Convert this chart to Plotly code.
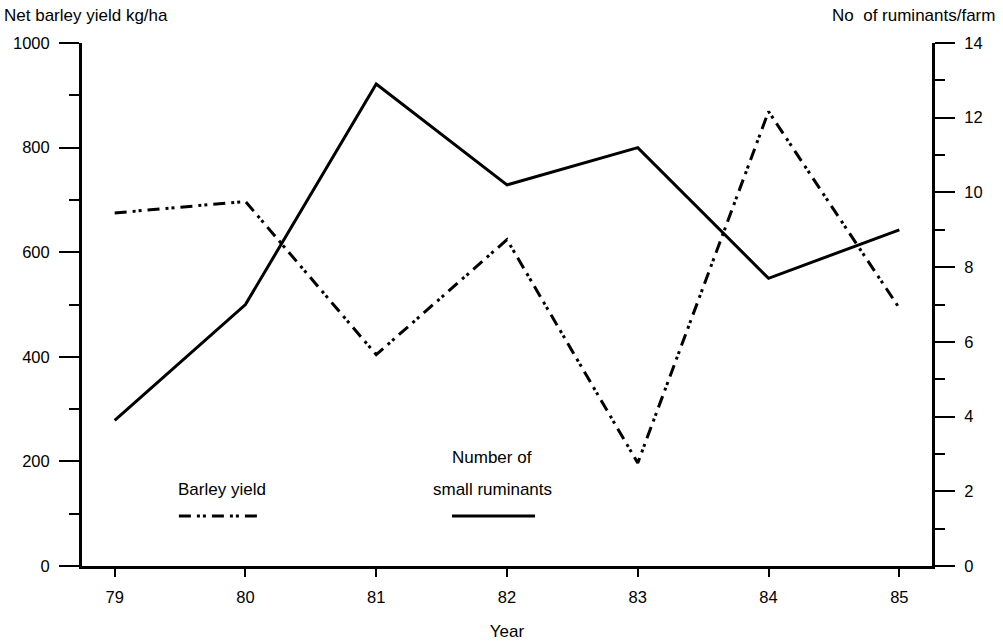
import plotly.graph_objects as go

# Survey years (19xx)
years = [79, 80, 81, 82, 83, 84, 85]
# Net barley yield, kg/ha (left axis)
barley_yield = [675, 697, 404, 624, 197, 869, 493]
# Number of small ruminants per farm (right axis)
ruminants = [3.9, 7.0, 12.9, 10.2, 11.2, 7.7, 9.0]

left_ticks = [0, 200, 400, 600, 800, 1000]
right_ticks = [0, 2, 4, 6, 8, 10, 12, 14]

FONT = "Liberation Sans, Arial, Helvetica, sans-serif"
BARLEY_DASH = "12px,6px,3px,3px,3px,6px"

fig = go.Figure()

fig.add_trace(go.Scatter(
    x=years, y=barley_yield, mode="lines", name="Barley yield",
    line=dict(color="black", width=3, dash=BARLEY_DASH),
    yaxis="y",
))
fig.add_trace(go.Scatter(
    x=years, y=ruminants, mode="lines", name="Number of small ruminants",
    line=dict(color="black", width=3),
    yaxis="y2",
))

axis_font = dict(family=FONT, size=16.5, color="black")
title_font = dict(family=FONT, size=17, color="black")

fig.update_layout(
    width=1003, height=641,
    margin=dict(l=82, r=71, t=43, b=75),
    paper_bgcolor="white", plot_bgcolor="white",
    showlegend=False,
    font=axis_font,
    xaxis=dict(
        range=[78.75, 85.25], tickvals=years, ticktext=[str(y) for y in years],
        showgrid=False, zeroline=False, automargin=False,
        showline=True, linecolor="black", linewidth=3,
        ticks="outside", ticklen=8, tickwidth=1.5, tickcolor="black",
        ticklabelstandoff=6,
        title=dict(text="Year", font=title_font, standoff=22),
        tickfont=axis_font,
    ),
    yaxis=dict(
        range=[0, 1000], tickvals=left_ticks,
        showgrid=False, zeroline=False, automargin=False,
        showline=True, linecolor="black", linewidth=3,
        ticks="outside", ticklen=20, tickwidth=2, tickcolor="black",
        ticklabelstandoff=6,
        minor=dict(ticks="outside", dtick=100, ticklen=10, tickwidth=1.5,
                   tickcolor="black", showgrid=False),
        tickfont=axis_font,
    ),
    yaxis2=dict(
        range=[0, 14], tickvals=right_ticks,
        overlaying="y", side="right", anchor="x", automargin=False,
        showgrid=False, zeroline=False,
        showline=True, linecolor="black", linewidth=3,
        ticks="outside", ticklen=20, tickwidth=2, tickcolor="black",
        ticklabelstandoff=6,
        minor=dict(ticks="outside", dtick=1, ticklen=10, tickwidth=1.5,
                   tickcolor="black", showgrid=False),
        tickfont=axis_font,
    ),
)

# Axis titles above each vertical axis
fig.add_annotation(text="Net barley yield kg/ha", xref="paper", yref="paper",
                   x=-0.0945, y=1.052, xanchor="left", yanchor="middle",
                   showarrow=False, font=title_font)
fig.add_annotation(text="No  of ruminants/farm", xref="paper", yref="paper",
                   x=1.0765, y=1.052, xanchor="right", yanchor="middle",
                   showarrow=False, font=title_font)

# In-plot key
fig.add_annotation(text="Barley yield", xref="paper", yref="paper",
                   x=0.1647, y=0.1454, xanchor="center", yanchor="middle",
                   showarrow=False, font=title_font)
fig.add_shape(type="line", xref="paper", yref="paper",
              x0=0.114, x1=0.2094, y0=0.0957, y1=0.0957,
              line=dict(color="black", width=3, dash=BARLEY_DASH))
fig.add_annotation(text="Number of", xref="paper", yref="paper",
                   x=0.4824, y=0.2066, xanchor="center", yanchor="middle",
                   showarrow=False, font=title_font)
fig.add_annotation(text="small ruminants", xref="paper", yref="paper",
                   x=0.4824, y=0.1454, xanchor="center", yanchor="middle",
                   showarrow=False, font=title_font)
fig.add_shape(type="line", xref="paper", yref="paper",
              x0=0.4353, x1=0.533, y0=0.0957, y1=0.0957,
              line=dict(color="black", width=3))

fig.write_html("out.html")
